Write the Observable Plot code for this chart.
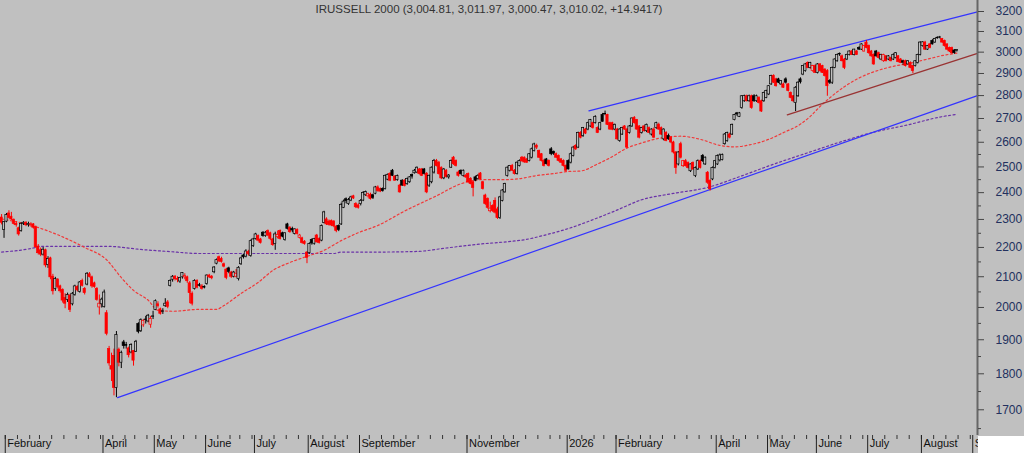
<!DOCTYPE html>
<html><head><meta charset="utf-8">
<script src="https://cdn.jsdelivr.net/npm/d3@7"></script>
<script src="https://cdn.jsdelivr.net/npm/@observablehq/plot@0.6"></script>
<style>
html,body{margin:0;padding:0;background:#fff;}
#wrap{position:relative;width:1024px;height:453px;overflow:hidden;background:#c0c0c0;}
#corner{position:absolute;left:978px;top:436px;width:46px;height:17px;background:#fff;}
</style></head><body>
<div id="wrap"><div id="chart"></div><div id="corner"></div></div>
<script>
const title = "IRUSSELL 2000 (3,004.81, 3,011.97, 3,000.47, 3,010.02, +14.9417)";
const firstTradingDay = "2025-01-30";
const holidays = ["2025-02-17","2025-04-18","2025-05-26","2025-06-19","2025-07-04","2025-09-01","2025-11-27","2025-12-25",
  "2026-01-01","2026-01-19","2026-02-16","2026-04-03","2026-05-25","2026-06-19","2026-07-03","2026-09-07"];
const monthLabels = [["2025-02","February"],["2025-04","April"],["2025-05","May"],["2025-06","June"],["2025-07","July"],
  ["2025-08","August"],["2025-09","September"],["2025-11","November"],["2026-01","2026"],["2026-02","February"],
  ["2026-04","April"],["2026-05","May"],["2026-06","June"],["2026-07","July"],["2026-08","August"],["2026-09","S"]];
const yMajorTicks = [1700,1800,1900,2000,2100,2200,2300,2400,2500,2600,2700,2800,2900,3000,3100,3200];
const yMinorTicks = [1650,1750,1850,1950,2050,2150,2250,2350,2450,2550,2650,2750,2850,2950,3050,3150];

// [open, high, low, close] per trading day
const ohlcFebMar2025 = [
[2307,2318,2280,2288],[2262,2292,2232,2290],[2292,2322,2288,2316],[2322,2332,2302,2306],[2310,2326,2296,2300],
[2298,2302,2280,2284],[2284,2292,2272,2279],[2268,2272,2240,2246],[2258,2288,2254,2284],[2284,2292,2278,2288],
[2288,2292,2274,2279],[2279,2290,2272,2284],[2282,2288,2272,2281],[2282,2285,2265,2270],[2272,2276,2196,2201],
[2203,2210,2174,2180],[2190,2198,2168,2175],[2175,2200,2170,2192],[2190,2194,2130,2138],[2140,2168,2128,2160],
[2162,2166,2090,2098],[2100,2108,2040,2052],[2060,2098,2052,2092],[2090,2094,2060,2066],[2068,2072,2046,2052],
[2056,2060,2014,2022],[2030,2044,1996,2012],[2024,2046,2016,2040],[2038,2042,1984,1992],[2010,2048,2005,2044],
[2040,2072,2036,2068],[2066,2070,2050,2055],[2050,2084,2046,2081],[2086,2092,2066,2070],[2060,2064,2040,2046],
[2074,2114,2070,2110],[2108,2114,2096,2099],[2098,2102,2062,2068],[2078,2082,2062,2066],[2060,2064,2020,2024],
[2000,2040,1976,2012]];
const ohlcAprMay2025 = [
[2010,2030,1998,2025],[2002,2056,1998,2048],[1982,1990,1912,1918],[1872,1880,1822,1830],[1822,1860,1778,1812],
[1852,1872,1738,1760],[1760,1925,1733,1914],[1870,1875,1820,1832],[1832,1866,1815,1861],[1892,1898,1872,1881],
[1884,1892,1872,1882],[1874,1878,1846,1854],[1862,1888,1858,1884],[1866,1868,1822,1838],[1864,1898,1862,1894],
[1948,1952,1918,1924],[1926,1964,1922,1960],[1944,1962,1938,1958],[1962,1972,1948,1961],[1956,1978,1952,1974],
[1946,1972,1935,1964],[1970,1988,1962,1972],[1992,2024,1990,2020],[2010,2018,1998,2004],[1994,1998,1976,1980],
[1986,1996,1978,1988],[2004,2028,2000,2012],[2016,2022,1996,2002],[2070,2090,2066,2086],[2090,2104,2082,2100],
[2100,2104,2086,2092],[2092,2100,2080,2090],[2084,2098,2078,2096],[2098,2114,2092,2112],[2098,2110,2090,2102],
[2098,2102,2078,2085],[2078,2084,2012,2046],[2044,2050,2005,2012],[2060,2090,2056,2086],[2086,2090,2060,2064],
[2072,2078,2066,2070],[2068,2074,2056,2060],[2066,2070,2060,2064]];
const ohlcJunAug2025 = [
[2076,2106,2072,2104],[2104,2108,2094,2098],[2100,2104,2090,2095],[2115,2134,2110,2131],[2144,2160,2140,2156],
[2166,2170,2148,2152],[2160,2166,2146,2150],[2142,2146,2130,2134],[2124,2128,2090,2096],[2128,2132,2110,2116],
[2114,2118,2094,2100],[2100,2118,2096,2114],[2100,2124,2096,2110],[2092,2134,2086,2130],[2142,2166,2138,2162],
[2172,2176,2160,2166],[2168,2192,2164,2186],[2184,2190,2170,2176],[2170,2226,2166,2222],[2205,2232,2200,2228],
[2230,2250,2226,2246],[2240,2244,2220,2224],[2228,2232,2212,2216],[2252,2256,2236,2240],[2240,2256,2236,2252],
[2258,2262,2238,2242],[2250,2254,2224,2230],[2228,2232,2204,2208],[2212,2254,2190,2246],[2236,2258,2230,2244],
[2258,2262,2226,2230],[2250,2254,2234,2238],[2226,2252,2222,2250],[2282,2286,2262,2266],[2270,2274,2250,2254],
[2266,2272,2252,2260],[2248,2266,2244,2264],[2262,2266,2244,2248],[2234,2246,2230,2242],[2232,2236,2212,2216],
[2220,2224,2208,2212],[2182,2186,2144,2164],[2180,2216,2176,2212],[2226,2230,2208,2214],[2213,2232,2208,2230],
[2242,2246,2216,2218],[2230,2234,2212,2216],[2224,2280,2220,2276],[2287,2330,2284,2326],[2300,2306,2278,2282],
[2292,2298,2276,2280],[2294,2298,2274,2278],[2292,2296,2270,2275],[2274,2278,2252,2258],[2276,2280,2256,2262],
[2282,2360,2278,2354],[2343,2372,2340,2366],[2375,2380,2358,2368],[2357,2378,2352,2372],[2370,2386,2366,2382],
[2386,2390,2374,2378],[2357,2362,2340,2345],[2352,2358,2338,2343],[2357,2374,2350,2369],[2370,2404,2366,2399],
[2390,2406,2386,2402],[2386,2398,2380,2394],[2392,2398,2372,2376],[2390,2394,2374,2380],[2396,2424,2392,2420],
[2420,2426,2402,2406],[2414,2418,2400,2404]];
const ohlcSepDec2025 = [
[2414,2418,2402,2406],[2414,2468,2410,2465],[2450,2472,2446,2469],[2472,2478,2442,2446],[2485,2490,2462,2465],
[2462,2466,2444,2446],[2448,2468,2444,2464],[2427,2432,2398,2401],[2446,2450,2424,2427],[2446,2450,2422,2426],
[2433,2456,2428,2453],[2440,2462,2436,2459],[2468,2472,2452,2462],[2475,2490,2472,2485],[2478,2500,2474,2497],
[2490,2494,2468,2472],[2490,2494,2462,2465],[2490,2494,2468,2472],[2472,2478,2396,2401],[2427,2468,2420,2465],
[2440,2500,2434,2497],[2478,2530,2472,2524],[2524,2530,2500,2504],[2517,2522,2468,2472],[2497,2500,2450,2455],
[2455,2494,2450,2490],[2485,2490,2456,2460],[2459,2470,2452,2466],[2497,2528,2494,2524],[2537,2542,2506,2511],
[2524,2528,2500,2504],[2478,2484,2460,2465],[2485,2488,2468,2472],[2465,2488,2460,2485],[2465,2470,2455,2459],
[2472,2476,2436,2440],[2453,2458,2430,2433],[2440,2446,2384,2418],[2459,2464,2442,2446],[2452,2470,2448,2465],
[2474,2478,2448,2452],[2440,2444,2410,2414],[2389,2394,2352,2357],[2376,2380,2338,2343],[2330,2364,2324,2340],
[2350,2354,2326,2331],[2369,2380,2320,2325],[2337,2345,2300,2305],[2305,2386,2300,2382],[2369,2412,2365,2408],
[2401,2436,2398,2433],[2465,2500,2460,2497],[2485,2506,2480,2504],[2504,2510,2482,2485],[2485,2490,2468,2472],
[2472,2520,2468,2517],[2504,2528,2500,2524],[2537,2542,2520,2522],[2537,2540,2515,2518],[2530,2534,2514,2517],
[2524,2554,2520,2551],[2537,2576,2532,2571],[2564,2596,2560,2591],[2585,2592,2570,2578],[2564,2568,2534,2537],
[2551,2554,2520,2524],[2524,2530,2500,2504],[2530,2534,2508,2511],[2524,2528,2500,2504],[2571,2578,2545,2551],
[2560,2564,2546,2553],[2551,2556,2534,2537],[2544,2548,2520,2524],[2530,2534,2514,2517],[2524,2528,2500,2504],
[2504,2508,2480,2485],[2524,2528,2488,2490],[2517,2556,2512,2551]];
const ohlcDec2025Aug2026 = [
[2544,2582,2540,2578],[2585,2590,2566,2571],[2578,2642,2574,2639],[2639,2644,2614,2619],[2626,2662,2620,2659],
[2653,2658,2632,2636],[2653,2684,2648,2680],[2666,2696,2662,2693],[2680,2684,2655,2659],[2680,2712,2676,2707],
[2659,2664,2636,2639],[2653,2684,2648,2680],[2715,2722,2684,2686],[2718,2732,2712,2720],[2715,2718,2670,2673],
[2680,2684,2650,2653],[2680,2684,2648,2652],[2653,2676,2648,2673],[2653,2658,2608,2612],[2605,2656,2600,2653],
[2632,2662,2628,2659],[2666,2670,2650,2653],[2653,2658,2574,2578],[2639,2670,2634,2666],[2666,2702,2662,2700],
[2703,2708,2676,2680],[2693,2696,2650,2653],[2666,2670,2614,2619],[2639,2662,2634,2659],[2666,2670,2642,2646],
[2646,2676,2640,2673],[2659,2664,2636,2639],[2632,2656,2626,2653],[2653,2660,2616,2619],[2659,2684,2654,2680],
[2673,2680,2650,2653],[2659,2664,2628,2632],[2612,2656,2606,2653],[2639,2644,2602,2605],[2626,2634,2608,2612],
[2619,2624,2594,2599],[2599,2604,2552,2558],[2558,2562,2471,2496],[2510,2562,2504,2558],[2592,2600,2532,2537],
[2503,2526,2498,2523],[2523,2530,2500,2503],[2516,2520,2492,2496],[2483,2512,2478,2510],[2516,2520,2486,2490],
[2464,2500,2458,2496],[2490,2528,2486,2523],[2523,2528,2492,2496],[2544,2550,2518,2523],[2510,2540,2506,2537],
[2477,2482,2432,2438],[2445,2450,2406,2413],[2451,2500,2446,2496],[2496,2526,2492,2523],[2510,2548,2506,2544],
[2526,2552,2520,2546],[2528,2552,2524,2548],[2592,2636,2588,2632],[2605,2642,2600,2639],[2632,2638,2614,2619],
[2632,2676,2628,2673],[2693,2718,2690,2715],[2722,2726,2710,2718],[2707,2726,2704,2722],[2745,2800,2740,2797],
[2775,2802,2770,2798],[2797,2802,2772,2775],[2775,2802,2770,2797],[2797,2802,2740,2745],[2797,2804,2770,2775],
[2775,2802,2770,2797],[2790,2795,2763,2767],[2775,2780,2726,2730],[2775,2815,2770,2812],[2790,2824,2786,2820],
[2805,2845,2800,2842],[2850,2892,2846,2888],[2888,2894,2854,2858],[2873,2878,2838,2842],[2873,2878,2854,2858],
[2850,2868,2846,2865],[2850,2856,2832,2835],[2873,2880,2852,2858],[2850,2854,2816,2820],[2812,2816,2786,2790],
[2797,2800,2770,2775],[2767,2840,2730,2835],[2797,2862,2792,2858],[2873,2880,2852,2860],[2895,2936,2890,2934],
[2911,2946,2906,2942],[2949,2954,2922,2926],[2926,2952,2920,2949],[2911,2938,2906,2934],[2934,2940,2900,2903],
[2903,2946,2898,2942],[2942,2946,2906,2911],[2934,2938,2900,2903],[2918,2922,2884,2888],[2911,2918,2797,2842],
[2865,2872,2850,2858],[2858,2930,2850,2926],[2926,2968,2922,2965],[2957,2990,2952,2987],[2992,2996,2980,2989],
[2980,2986,2954,2957],[2965,2970,2918,2926],[2965,2990,2960,2987],[2987,3006,2982,3003],[3003,3008,2984,2987],
[2987,3014,2982,3012],[3003,3008,2984,2987],[3020,3026,3008,3012],[3012,3040,3008,3037],[3003,3032,3000,3029],
[3046,3056,3016,3020],[3029,3034,2990,2995],[3003,3008,2976,2980],[2987,2992,2938,2942],[3003,3008,2976,2980],
[2995,3000,2968,2972],[2965,2990,2960,2987],[2957,2990,2952,2986],[2980,2984,2954,2957],[2965,2984,2960,2980],
[2972,2976,2954,2957],[2965,2992,2960,2987],[2972,2998,2968,2995],[2980,2984,2950,2953],[2965,2970,2946,2949],
[2957,2962,2938,2950],[2957,2962,2930,2934],[2942,2960,2938,2957],[2949,2954,2922,2926],[2934,2938,2900,2911],
[2934,2960,2930,2957],[2949,2990,2944,2987],[2987,3050,2982,3046],[3029,3050,3024,3047],[3046,3052,3008,3012],
[3012,3032,3008,3029],[3037,3042,3016,3020],[3054,3060,3034,3037],[3046,3066,3042,3063],[3067,3074,3062,3069],
[3071,3076,3064,3070],[3063,3066,3042,3046],[3054,3058,3024,3029],[3037,3040,3008,3012],[3020,3024,2998,3003],
[3020,3024,2990,2995],[3008,3012,2990,2995.08],[3004.81,3011.97,3000.47,3010.02]];

// moving averages, [trading-day index, value]
const maShort = [[0,2302],[13,2276],[34,2200],[43,2157],[49,2097],[54,2055],[60,2023],[64,1991],[70,1988],[81,1994],
[88,1994],[91,2006],[98,2045],[105,2081],[111,2121],[118,2148],[125,2169],[132,2190],[139,2224],[146,2252],[154,2278],
[165,2331],[178,2388],[188,2434],[196,2450],[205,2450],[212,2454],[219,2466],[226,2474],[232,2482],[237,2484],[244,2512],
[249,2536],[256,2576],[262,2597],[270,2618],[278,2625],[286,2612],[294,2587],[300,2581],[307,2591],[314,2612],[320,2640],
[327,2676],[331,2709],[335,2752],[339,2790],[345,2840],[352,2885],[359,2915],[365,2933],[372,2948],[379,2967],[386,2986],[391,2995]];
const maLong = [[0,2184],[13,2198],[16,2204],[43,2204],[57,2193],[68,2186],[81,2179],[136,2179],[139,2184],[155,2184],
[170,2186],[182,2198],[196,2212],[207,2220],[214,2227],[223,2245],[232,2267],[242,2299],[251,2331],[262,2373],[275,2397],
[289,2420],[303,2465],[316,2511],[330,2557],[343,2600],[357,2642],[371,2673],[384,2706],[391,2718]];
// trend lines, [trading-day index, value]
const trendLower = [[47.5,1733],[399.45,2800]];
const trendUpper = [[240.4,2733],[399.45,3198]];
const trendShort = [[321.6,2716],[399.45,2994]];

// trading calendar
const hol = new Set(holidays);
const dates = [];
{
  const d = new Date(firstTradingDay + "T12:00:00Z");
  while (dates.length < 400) {
    const wd = d.getUTCDay(), iso = d.toISOString().slice(0, 10);
    if (wd !== 0 && wd !== 6 && !hol.has(iso)) dates.push({iso, wd});
    d.setUTCDate(d.getUTCDate() + 1);
  }
}
const labelOf = new Map(monthLabels);
const weekTicks = [], sepTicks = [], sepLabel = new Map();
for (let k = 1; k < dates.length; k++) {
  if (dates[k].wd < dates[k - 1].wd) weekTicks.push(k - 0.5);
  const m = dates[k].iso.slice(0, 7);
  if (m !== dates[k - 1].iso.slice(0, 7) && labelOf.has(m)) { sepTicks.push(k - 0.5); sepLabel.set(k - 0.5, labelOf.get(m)); }
}

const rows = [...ohlcFebMar2025, ...ohlcAprMay2025, ...ohlcJunAug2025, ...ohlcSepDec2025, ...ohlcDec2025Aug2026];
const candles = rows.map(([open, high, low, close], k) => ({k, open, high, low, close}));
candles.forEach((c, i) => {
  const prev = i ? candles[i - 1].close : c.open;
  c.col = c.close >= prev ? "#000000" : "#ff0000";
  c.fill = c.close < c.open ? c.col : "#c0c0c0";
  c.lo = Math.min(c.open, c.close);
  c.hi = Math.max(c.open, c.close);
});

const hw = 0.46;
const chart = Plot.plot({
  width: 1024, height: 453,
  marginTop: 0, marginBottom: 18, marginLeft: 0, marginRight: 47,
  style: {background: "#c0c0c0", fontFamily: "'Liberation Sans', Arial, Helvetica, sans-serif", color: "#111"},
  x: {domain: [-0.45, 399.45], axis: null},
  y: {type: "log", domain: [1632, 3256.4], axis: null},
  color: {type: "identity"},
  marks: [
    Plot.line(maLong, {x: d => d[0], y: d => d[1], stroke: "#6a32a8", strokeWidth: 1.2, strokeDasharray: "2,2.5", curve: "monotone-x"}),
    Plot.line(maShort, {x: d => d[0], y: d => d[1], stroke: "#f03a3a", strokeWidth: 1.2, strokeDasharray: "2,2.5", curve: "monotone-x"}),
    Plot.line(trendLower, {x: d => d[0], y: d => d[1], stroke: "#3333ff", strokeWidth: 1.2}),
    Plot.line(trendUpper, {x: d => d[0], y: d => d[1], stroke: "#3333ff", strokeWidth: 1.2}),
    Plot.line(trendShort, {x: d => d[0], y: d => d[1], stroke: "#993333", strokeWidth: 1.3}),
    Plot.ruleX(candles, {x: "k", y1: "low", y2: "high", stroke: "col", strokeWidth: 1}),
    Plot.rect(candles, {x1: d => d.k - hw, x2: d => d.k + hw, y1: "lo", y2: "hi", fill: "fill", stroke: "col", strokeWidth: 0.7}),
    Plot.ruleX([399.45], {stroke: "#666", strokeWidth: 2}),
    Plot.axisY({anchor: "right", ticks: yMajorTicks, tickSize: 6, tickPadding: 12, fontSize: 12, fill: "#22305e", stroke: "#444", tickFormat: d => String(d)}),
    Plot.axisY({anchor: "right", ticks: yMinorTicks, tickSize: 3, stroke: "#444", fill: "none"}),
    Plot.axisX({anchor: "bottom", ticks: weekTicks, tickSize: 4, stroke: "#333", fill: "none"}),
    Plot.axisX({anchor: "bottom", ticks: sepTicks, tickSize: 18, stroke: "#222", fill: "none"}),
    Plot.axisX({anchor: "bottom", ticks: sepTicks, tickSize: 0, tickPadding: 4, textAnchor: "start", dx: 2, fontSize: 11, fill: "#111", tickFormat: d => sepLabel.get(d)}),
    Plot.text([title], {frameAnchor: "top", dy: 4, lineAnchor: "top", fontSize: 11.5, fill: "#333"})
  ]
});
document.getElementById("chart").appendChild(chart);
</script>
</body></html>
